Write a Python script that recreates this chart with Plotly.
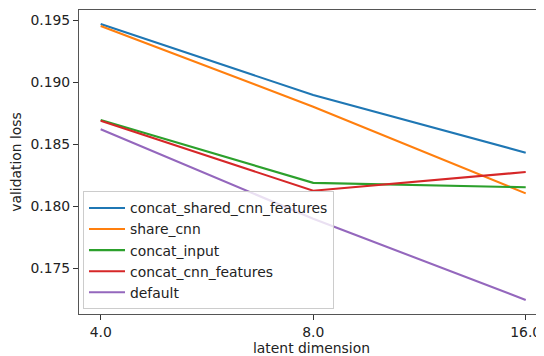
import plotly.graph_objects as go

latent_dims = ["4.0", "8.0", "16.0"]
series_names = ["concat_shared_cnn_features", "share_cnn", "concat_input",
                "concat_cnn_features", "default"]
concat_shared_cnn_features = [0.19472, 0.18899, 0.18434]
share_cnn = [0.19456, 0.18805, 0.18106]
concat_input = [0.18697, 0.18191, 0.18155]
concat_cnn_features = [0.18692, 0.18127, 0.18278]
default = [0.18623, 0.17902, 0.17246]
y_ticks = [0.175, 0.180, 0.185, 0.190, 0.195]

values = [concat_shared_cnn_features, share_cnn, concat_input,
          concat_cnn_features, default]
colors = ["#1f77b4", "#ff7f0e", "#2ca02c", "#d62728", "#9467bd"]

FONT = "DejaVu Sans"
fig = go.Figure()
for name, vals, c in zip(series_names, values, colors):
    fig.add_trace(go.Scatter(x=latent_dims, y=vals, mode="lines", name=name,
                             line=dict(color=c, width=2.1)))

axis_common = dict(showline=True, linecolor="#555555", linewidth=1.1,
                   ticks="outside", ticklen=5, tickwidth=1.1, tickcolor="#333333",
                   showgrid=False, zeroline=False, automargin=False,
                   tickfont=dict(family=FONT, size=13.9, color="#222222"))

# page body has an 8px margin, so the figure is sized/offset to compensate
fig.update_layout(
    width=536, height=348,
    margin=dict(l=71, r=0, t=2, b=42),
    paper_bgcolor="white", plot_bgcolor="white",
    font=dict(family=FONT, size=13.9, color="#222222"),
    xaxis=dict(type="category", range=[-0.102, 2.086], mirror=True,
               title=dict(text="latent dimension", standoff=4,
                          font=dict(family=FONT, size=13.9, color="#222222")),
               **axis_common),
    yaxis=dict(range=[0.17133, 0.19585], tickvals=y_ticks,
               ticktext=[f"{v:.3f}" for v in y_ticks],
               title=dict(text="validation loss", standoff=8,
                          font=dict(family=FONT, size=13.9, color="#222222")),
               **axis_common),
    legend=dict(x=0.0086, y=0.015, xanchor="left", yanchor="bottom",
                bgcolor="rgba(255,255,255,0.8)", bordercolor="#cccccc",
                borderwidth=1, itemwidth=36,
                font=dict(family=FONT, size=13.9, color="#222222")),
)

fig.write_html("out.html")
